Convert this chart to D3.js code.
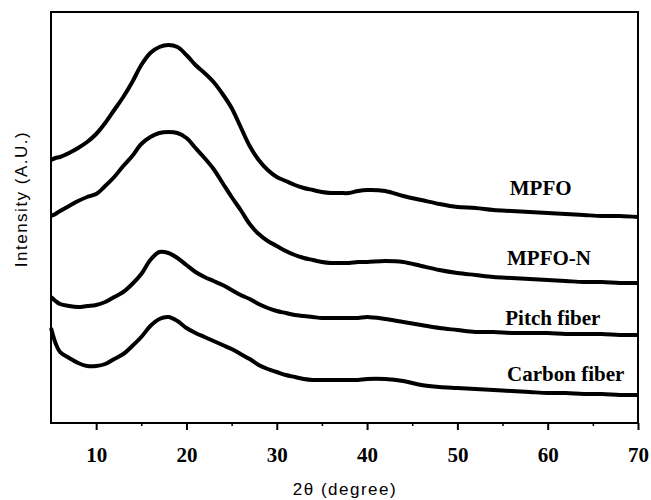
<!DOCTYPE html>
<html>
<head>
<meta charset="utf-8">
<script src="https://cdn.jsdelivr.net/npm/d3@7"></script>
<style>
  body { margin: 0; background: #fff; }
</style>
</head>
<body>
<div id="chart"></div>
<script>
// 2-theta positions (degree) shared by all four patterns
var twoTheta = [5, 5.5, 6, 7, 8, 9, 10, 11, 12, 13, 14, 15, 16, 17, 18, 19, 20,
  21, 22, 23, 24, 25, 26, 27, 28, 29, 30, 31, 32, 33, 34, 35, 36, 37, 38, 39, 40,
  42, 44, 46, 48, 50, 52, 54, 56, 58, 60, 62, 64, 66, 68, 70];

// intensities (arbitrary units, stacked as in the figure)
var mpfo = [263, 265, 266, 270, 275, 281, 289, 300, 313, 326, 341, 358, 370, 376, 378, 376, 368,
  358, 350, 341, 329, 315, 296, 277, 263, 253, 246, 242, 238, 235, 233, 231, 230, 230, 230, 232, 233,
  232, 227, 223, 219, 216, 215, 213, 212, 211, 210, 209, 208, 207, 207, 206];
var mpfoN = [207, 209, 212, 217, 222, 226, 229, 237, 246, 257, 267, 279, 286, 290, 291, 290, 285,
  275, 265, 254, 240, 226, 213, 199, 189, 182, 177, 172, 168, 165, 163, 161, 160, 160, 160, 161, 161,
  162, 161, 157, 153, 150, 148, 146, 145, 144, 143, 142, 141, 141, 140, 140];
var pitchFiber = [126, 122, 119, 117, 116, 117, 118, 121, 126, 131, 139, 149, 163, 171, 170, 165, 158,
  151, 146, 142, 138, 133, 128, 124, 119, 115, 112, 110, 108, 107, 106, 105, 105, 105, 105, 105, 106,
  104, 101, 98, 95, 93, 91, 91, 90, 90, 90, 89, 89, 89, 88, 88];
var carbonFiber = [95, 80, 71, 65, 60, 57, 57, 59, 64, 69, 77, 86, 97, 104, 106, 102, 95,
  90, 86, 82, 78, 74, 69, 64, 58, 54, 51, 48, 46, 44, 43, 43, 43, 43, 43, 43, 44,
  44, 42, 38, 36, 35, 34, 33, 32, 31, 30, 30, 29, 29, 28, 28];

var seriesNames = ['MPFO', 'MPFO-N', 'Pitch fiber', 'Carbon fiber'];
var seriesValues = [mpfo, mpfoN, pitchFiber, carbonFiber];

var majorTicks = [10, 20, 30, 40, 50, 60, 70];
var minorTicks = [15, 25, 35, 45, 55, 65];

var width = 651;
var height = 500;
var margin = { top: 12, right: 13, bottom: 77, left: 51 };

var svg = d3.select('#chart')
  .append('svg')
  .attr('width', width)
  .attr('height', height);

var x = d3.scaleLinear()
  .domain([5, 70])
  .range([margin.left, width - margin.right]);

var y = d3.scaleLinear()
  .domain([0, 411])
  .range([height - margin.bottom, margin.top]);

// the patterns
var line = d3.line()
  .x(function (d) { return x(d[0]); })
  .y(function (d) { return y(d[1]); })
  .curve(d3.curveCatmullRom);

svg.append('g')
  .selectAll('path')
  .data(seriesValues)
  .join('path')
  .attr('d', function (vals) { return line(twoTheta.map(function (t, i) { return [t, vals[i]]; })); })
  .attr('fill', 'none')
  .attr('stroke', '#000')
  .attr('stroke-width', 4)
  .attr('stroke-linejoin', 'round');

// labels on the right
var labelPos = [{ t: 55.8, v: 228 }, { t: 55.5, v: 158 }, { t: 55.3, v: 98 }, { t: 55.5, v: 42 }];
svg.append('g')
  .selectAll('text')
  .data(seriesNames)
  .join('text')
  .attr('x', function (d, i) { return x(labelPos[i].t); })
  .attr('y', function (d, i) { return y(labelPos[i].v); })
  .attr('font-family', '"Liberation Serif", "Times New Roman", serif')
  .attr('font-weight', 'bold')
  .attr('font-size', '21px')
  .text(function (d) { return d; });

// bottom axis: major and minor ticks
var xAxis = svg.append('g')
  .attr('transform', 'translate(0,' + y(0) + ')')
  .call(d3.axisBottom(x).tickValues(majorTicks).tickSize(7).tickPadding(17));
xAxis.select('.domain').remove();
xAxis.selectAll('line').attr('stroke-width', 2);
xAxis.selectAll('text')
  .attr('font-family', '"Liberation Serif", "Times New Roman", serif')
  .attr('font-weight', 'bold')
  .attr('font-size', '21px');

var xMinor = svg.append('g')
  .attr('transform', 'translate(0,' + y(0) + ')')
  .call(d3.axisBottom(x).tickValues(minorTicks).tickSize(3).tickFormat(''));
xMinor.select('.domain').remove();
xMinor.selectAll('line').attr('stroke-width', 1.5);

// frame
svg.append('rect')
  .attr('x', x(5))
  .attr('y', y(411))
  .attr('width', x(70) - x(5))
  .attr('height', y(0) - y(411))
  .attr('fill', 'none')
  .attr('stroke', '#000')
  .attr('stroke-width', 2);

// axis titles
svg.append('text')
  .attr('x', 345)
  .attr('y', 495)
  .attr('text-anchor', 'middle')
  .attr('font-family', '"Liberation Sans", Arial, sans-serif')
  .attr('font-size', '17px')
  .attr('letter-spacing', '1.5px')
  .text('2θ (degree)');

svg.append('text')
  .attr('transform', 'translate(27,199) rotate(-90)')
  .attr('text-anchor', 'middle')
  .attr('font-family', '"Liberation Sans", Arial, sans-serif')
  .attr('font-size', '17px')
  .attr('letter-spacing', '1.5px')
  .text('Intensity (A.U.)');
</script>
</body>
</html>
